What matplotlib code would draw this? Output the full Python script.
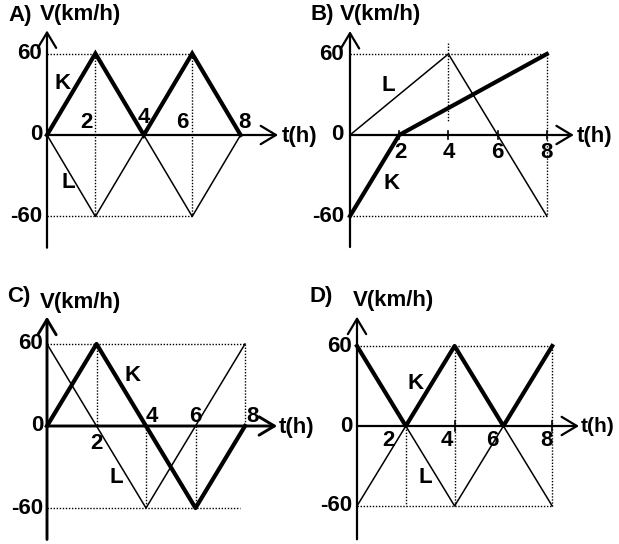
import matplotlib
matplotlib.use("Agg")
import matplotlib.pyplot as plt

plt.rcParams['font.family'] = ['Liberation Sans', 'DejaVu Sans']
plt.rcParams['font.weight'] = 'bold'

W, H = 619, 544

# speed graphs, t in h, V in km/h
a_t = [0, 2, 4, 6, 8]
a_k = [0, 60, 0, 60, 0]
a_l = [0, -60, 0, -60, 0]

b_lt = [0, 4, 8]
b_l = [0, 60, -60]
b_kt = [0, 2, 8]
b_k = [-60, 0, 60]

c_kt = [0, 2, 4, 6, 8]
c_k = [0, 60, 0, -60, 0]
c_lt = [0, 4, 8]
c_l = [60, -60, 60]

d_t = [0, 2, 4, 6, 8]
d_k = [60, 0, 60, 0, 60]
d_l = [-60, 0, -60, 0, -60]

tick_labels = ['2', '4', '6', '8']

FS = 16

fig = plt.figure(figsize=(W / 100, H / 100), dpi=100)


def panel(ox, oy, sx, sy, xlim=(-2.0, 11.0), ylim=(-95, 95)):
    # place axes so that data origin sits at pixel (ox, oy)
    left = ox + xlim[0] * sx
    width = (xlim[1] - xlim[0]) * sx
    top = oy - ylim[1] * sy
    bottom = oy - ylim[0] * sy
    ax = fig.add_axes([left / W, 1 - bottom / H, width / W, (bottom - top) / H])
    ax.set_xlim(*xlim)
    ax.set_ylim(*ylim)
    ax.axis('off')
    return ax


def axes_arrows(ax, xend, ytop, ybot, lw=1.6):
    arr = dict(arrowstyle='->,head_length=0.5,head_width=0.3', lw=lw, color='black',
               shrinkA=0, shrinkB=0, mutation_scale=22)
    ax.annotate('', xy=(xend, 0), xytext=(0, 0), arrowprops=arr, annotation_clip=False)
    ax.annotate('', xy=(0, ytop), xytext=(0, ybot), arrowprops=arr, annotation_clip=False)


def dotted_h(ax, y, x0, x1):
    ax.plot([x0, x1], [y, y], color='black', lw=1, ls=(0, (1, 1.2)), clip_on=False)


def dotted_v(ax, x, y0, y1):
    ax.plot([x, x], [y0, y1], color='black', lw=1, ls=(0, (1, 1.2)), clip_on=False)


def txt(ax, x, y, s, ha='center', fs=FS):
    ax.text(x, y, s, ha=ha, va='center', fontsize=fs, fontweight='bold', clip_on=False)


def y_labels(ax, x, ha='right'):
    txt(ax, x, 60, '60', ha=ha)
    txt(ax, x, 0, '0', ha=ha)
    txt(ax, x, -60, '-60', ha=ha)


# ---- A ----
ax = panel(47, 135, 24.2, 1.358)
dotted_h(ax, 60, 0, 6)
dotted_h(ax, -60, 0, 6)
dotted_v(ax, 2, 60, -60)
dotted_v(ax, 6, 60, -60)
ax.plot(a_t, a_l, color='black', lw=1.1)
ax.plot(a_t, a_k, color='black', lw=3.0, solid_joinstyle='miter')
axes_arrows(ax, 9.55, 77, -83)
y_labels(ax, -0.2)
for x, s in zip([1.65, 4.0, 5.6, 8.15], tick_labels):
    txt(ax, x, 13 if s == '4' else 9, s)
txt(ax, 0.66, 38, 'K')
txt(ax, 0.87, -35, 'L')
txt(ax, 9.7, -1, 't(h)', ha='left')
txt(ax, -1.6, 88, 'A)', ha='left')
txt(ax, -0.3, 89, 'V(km/h)', ha='left')

# ---- B ----
ax = panel(350, 135, 24.6, 1.35)
dotted_h(ax, 60, 0, 8)
dotted_h(ax, -60, 0, 8)
dotted_v(ax, 4, 68, 10)
dotted_v(ax, 8, 60, -60)
ax.plot(b_lt, b_l, color='black', lw=1.1)
ax.plot(b_kt, b_k, color='black', lw=3.0)
axes_arrows(ax, 9.1, 77, -83)
for x in [2, 4, 6, 8]:
    ax.plot([x, x], [-3, 3], color='black', lw=1.2)
y_labels(ax, -0.25)
for x, s in zip([2.03, 4, 6, 8], tick_labels):
    txt(ax, x, -13, s)
txt(ax, 1.55, 37, 'L')
txt(ax, 1.67, -36, 'K')
txt(ax, 9.2, -1, 't(h)', ha='left')
txt(ax, -1.6, 89, 'B)', ha='left')
txt(ax, -0.4, 89, 'V(km/h)', ha='left')

# ---- C ----
ax = panel(47, 426, 24.75, 1.367)
dotted_h(ax, 60, 0, 8)
dotted_h(ax, -60, 0, 7.8)
dotted_v(ax, 2, 60, 0)
dotted_v(ax, 4, 0, -60)
dotted_v(ax, 6, 0, -60)
dotted_v(ax, 8, 60, 0)
ax.plot(c_lt, c_l, color='black', lw=1.1)
ax.plot(c_kt, c_k, color='black', lw=3.0)
axes_arrows(ax, 9.3, 80, -83, lw=2.1)
y_labels(ax, -0.15)
for (x, y), s in zip([(2, -12.5), (4.25, 7), (6.0, 7), (8.3, 7)], tick_labels):
    txt(ax, x, y, s)
txt(ax, 3.45, 37, 'K')
txt(ax, 2.8, -38, 'L')
txt(ax, 9.35, -1, 't(h)', ha='left')
txt(ax, -1.6, 95, 'C)', ha='left')
txt(ax, -0.3, 90, 'V(km/h)', ha='left')

# ---- D ----
ax = panel(357, 426, 24.4, 1.333)
dotted_h(ax, 60, 0, 8)
dotted_h(ax, -60, 0, 8)
dotted_v(ax, 2, 0, -60)
dotted_v(ax, 4, 60, -60)
dotted_v(ax, 8, 60, -60)
ax.plot(d_t, d_l, color='black', lw=1.1)
ax.plot(d_t, d_k, color='black', lw=3.0)
axes_arrows(ax, 9.1, 82, -85)
for x in [4, 8]:
    ax.plot([x, x], [-4, 4], color='black', lw=1.2)
y_labels(ax, -0.2)
for x, s in zip([1.3, 3.7, 5.55, 7.75], tick_labels):
    txt(ax, x, -11, s)
txt(ax, 2.4, 32, 'K')
txt(ax, 2.8, -39, 'L')
txt(ax, 9.17, 0, 't(h)', ha='left', fs=15)
txt(ax, -1.95, 97, 'D)', ha='left')
txt(ax, -0.15, 94, 'V(km/h)', ha='left')

fig.savefig('out.png', dpi=100, facecolor='white')
